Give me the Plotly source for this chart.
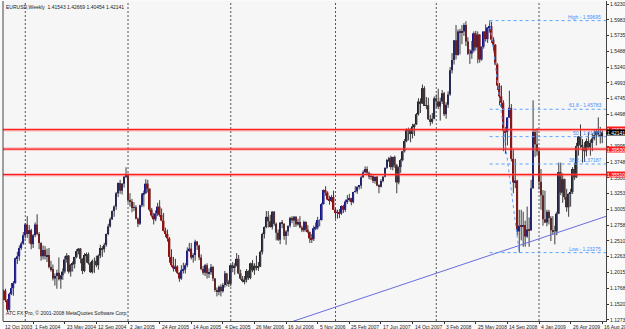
import pandas as pd
import plotly.graph_objects as go

header_text = "EURUSD,Weekly  1.41543 1.42669 1.40454 1.42141"
footer_text = "ATC FX Pro, \u00a9 2001-2008 MetaQuotes Software Corp."

first_week = "2003-10-12"
missing_week = "2007-08-26"   # week absent from the broker history

opens = [
    # 2003
    1.1770, 1.1630, 1.1730, 1.1580, 1.1430, 1.1680, 1.1770, 1.1850, 1.2240, 1.2270, 1.2400, 1.2470,
    # 2004
    1.2600, 1.2770, 1.2620, 1.2680, 1.2460, 1.2600, 1.2770, 1.2620, 1.2480, 1.2270, 1.2370, 1.2270, 1.2290,
    1.2100, 1.2070, 1.1920, 1.1960, 1.2010, 1.1910, 1.1970, 1.2030, 1.2220, 1.2280, 1.2030, 1.2140, 1.2150,
    1.2260, 1.2350, 1.2390, 1.2230, 1.2040, 1.2290, 1.2300, 1.2160, 1.2020, 1.2200, 1.2200, 1.2130, 1.2280,
    1.2400, 1.2380, 1.2450, 1.2620, 1.2740, 1.2850, 1.2980, 1.3050, 1.3260, 1.3420, 1.3300, 1.3410, 1.3520,
    # 2005
    1.3550, 1.3150, 1.3130, 1.3030, 1.3040, 1.2860, 1.2780, 1.3070, 1.3240, 1.3260, 1.3410, 1.3330, 1.3000,
    1.2910, 1.2850, 1.2940, 1.3050, 1.2920, 1.2830, 1.2670, 1.2620, 1.2550, 1.2260, 1.2130, 1.2080, 1.2110,
    1.2010, 1.1920, 1.2050, 1.2060, 1.2130, 1.2360, 1.2390, 1.2250, 1.2290, 1.2500, 1.2440, 1.2250, 1.2070,
    1.2010, 1.2130, 1.2000, 1.2020, 1.2100, 1.1920, 1.1740, 1.1710, 1.1790, 1.1720, 1.1820, 1.2000, 1.1860,
    # 2006
    1.1840, 1.2130, 1.2100, 1.2120, 1.2230, 1.2000, 1.1920, 1.1880, 1.1900, 1.2040, 1.1930, 1.2160, 1.2050,
    1.2120, 1.2090, 1.2110, 1.2340, 1.2620, 1.2730, 1.2890, 1.2820, 1.2730, 1.2970, 1.2780, 1.2640, 1.2530,
    1.2800, 1.2780, 1.2590, 1.2660, 1.2750, 1.2870, 1.2830, 1.2890, 1.2770, 1.2810, 1.2720, 1.2680, 1.2810,
    1.2690, 1.2650, 1.2550, 1.2540, 1.2710, 1.2720, 1.2840, 1.2840, 1.3090, 1.3310, 1.3270, 1.3160, 1.3140,
    # 2007
    1.3200, 1.3000, 1.2950, 1.2960, 1.2940, 1.3060, 1.3000, 1.3130, 1.3160, 1.3180, 1.3120, 1.3280, 1.3290,
    1.3360, 1.3380, 1.3510, 1.3590, 1.3640, 1.3580, 1.3520, 1.3530, 1.3450, 1.3520, 1.3380, 1.3360, 1.3450,
    1.3520, 1.3660, 1.3780, 1.3810, 1.3670, 1.3830, 1.3700, 1.3430, 1.3670, 1.3780, 1.3920, 1.4080, 1.4260,
    1.4250, 1.4190, 1.4310, 1.4340, 1.4500, 1.4700, 1.4670, 1.4910, 1.4630, 1.4640, 1.4420, 1.4380,
    # 2008
    1.4430, 1.4750, 1.4700, 1.4620, 1.4700, 1.4830, 1.4500, 1.4650, 1.4810, 1.5190, 1.5350, 1.5660, 1.5430,
    1.5800, 1.5780, 1.5800, 1.5900, 1.5640, 1.5450, 1.5450, 1.5500, 1.5770, 1.5550, 1.5750, 1.5360, 1.5560,
    1.5800, 1.5680, 1.5860, 1.5880, 1.5670, 1.5590, 1.5280, 1.4950, 1.4780, 1.4680, 1.4240, 1.4220, 1.4450,
    1.4600, 1.3800, 1.3430, 1.3460, 1.2660, 1.2750, 1.2740, 1.2760, 1.2580, 1.2690, 1.2680, 1.3340, 1.4220,
    1.4030,
    # 2009
    1.3920, 1.3440, 1.3230, 1.2850, 1.2800, 1.2970, 1.2870, 1.2680, 1.2660, 1.2660, 1.2940, 1.3590, 1.3270,
    1.3480, 1.3200, 1.3040, 1.3250, 1.3280, 1.3640, 1.3510, 1.4000, 1.4150, 1.4020, 1.3980, 1.3920, 1.4080,
    1.3980, 1.4050, 1.4120, 1.4170, 1.4230, 1.4180, 1.41543,
]

highs = [
    # 2003
    1.1790, 1.1750, 1.1760, 1.1600, 1.1700, 1.1850, 1.1880, 1.2250, 1.2340, 1.2440, 1.2500, 1.2650,
    # 2004
    1.2790, 1.2900, 1.2760, 1.2700, 1.2620, 1.2800, 1.2930, 1.2650, 1.2490, 1.2440, 1.2430, 1.2390, 1.2400,
    1.2200, 1.2140, 1.2000, 1.2060, 1.2250, 1.1980, 1.2080, 1.2270, 1.2320, 1.2290, 1.2150, 1.2190, 1.2260,
    1.2380, 1.2400, 1.2400, 1.2240, 1.2320, 1.2330, 1.2330, 1.2180, 1.2220, 1.2250, 1.2280, 1.2300, 1.2450,
    1.2430, 1.2480, 1.2630, 1.2780, 1.2880, 1.2990, 1.3070, 1.3280, 1.3430, 1.3470, 1.3420, 1.3530, 1.3667,
    # 2005
    1.3570, 1.3260, 1.3170, 1.3120, 1.3070, 1.2880, 1.3080, 1.3260, 1.3300, 1.3480, 1.3470, 1.3340, 1.3030,
    1.2950, 1.2990, 1.3110, 1.3150, 1.3020, 1.2950, 1.2720, 1.2690, 1.2570, 1.2380, 1.2260, 1.2230, 1.2130,
    1.2020, 1.2130, 1.2170, 1.2160, 1.2410, 1.2480, 1.2480, 1.2320, 1.2530, 1.2510, 1.2450, 1.2300, 1.2120,
    1.2150, 1.2160, 1.2080, 1.2150, 1.2120, 1.1930, 1.1780, 1.1810, 1.1830, 1.1850, 1.2040, 1.2010, 1.1900,
    # 2006
    1.2140, 1.2180, 1.2160, 1.2320, 1.2290, 1.2060, 1.1960, 1.1960, 1.2070, 1.2050, 1.2170, 1.2210, 1.2160,
    1.2280, 1.2180, 1.2360, 1.2640, 1.2740, 1.2980, 1.2980, 1.2920, 1.2980, 1.2980, 1.2800, 1.2690, 1.2800,
    1.2840, 1.2790, 1.2680, 1.2750, 1.2890, 1.2900, 1.2900, 1.2900, 1.2860, 1.2900, 1.2750, 1.2830, 1.2820,
    1.2760, 1.2660, 1.2620, 1.2750, 1.2800, 1.2890, 1.2850, 1.3110, 1.3320, 1.3370, 1.3290, 1.3220, 1.3230,
    # 2007
    1.3300, 1.3030, 1.3000, 1.3010, 1.3070, 1.3080, 1.3160, 1.3230, 1.3250, 1.3190, 1.3280, 1.3370, 1.3370,
    1.3390, 1.3530, 1.3620, 1.3680, 1.3680, 1.3600, 1.3570, 1.3540, 1.3520, 1.3530, 1.3400, 1.3480, 1.3530,
    1.3660, 1.3800, 1.3830, 1.3850, 1.3830, 1.3850, 1.3720, 1.3680, 1.3800, 1.3920, 1.4110, 1.4280, 1.4290,
    1.4280, 1.4350, 1.4350, 1.4520, 1.4750, 1.4750, 1.4967, 1.4940, 1.4770, 1.4760, 1.4490, 1.4520,
    # 2008
    1.4780, 1.4810, 1.4900, 1.4760, 1.4880, 1.4850, 1.4690, 1.4860, 1.5240, 1.5460, 1.5660, 1.5900, 1.5830,
    1.5840, 1.5900, 1.5930, 1.5960, 1.5710, 1.5520, 1.5650, 1.5800, 1.5810, 1.5800, 1.5760, 1.5570, 1.5800,
    1.5910, 1.5870, 1.59695, 1.5950, 1.5710, 1.5600, 1.5300, 1.4990, 1.4950, 1.4720, 1.4300, 1.4450, 1.4870,
    1.4660, 1.3940, 1.3800, 1.3470, 1.3000, 1.3000, 1.2970, 1.2830, 1.3050, 1.2880, 1.3470, 1.4719, 1.4250,
    1.4280,
    # 2009
    1.3950, 1.3640, 1.3310, 1.3300, 1.3000, 1.3000, 1.2900, 1.2900, 1.2750, 1.2970, 1.3740, 1.3740, 1.3570,
    1.3490, 1.3330, 1.3260, 1.3330, 1.3670, 1.3740, 1.4050, 1.4160, 1.4340, 1.4110, 1.4060, 1.4120, 1.4220,
    1.4100, 1.4200, 1.4250, 1.4270, 1.4450, 1.4300, 1.42669,
]

lows = [
    # 2003
    1.1600, 1.1580, 1.1550, 1.1400, 1.1420, 1.1660, 1.1650, 1.1840, 1.2150, 1.2200, 1.2370, 1.2450,
    # 2004
    1.2550, 1.2560, 1.2470, 1.2380, 1.2400, 1.2570, 1.2600, 1.2380, 1.2200, 1.2220, 1.2220, 1.2180, 1.2080,
    1.2030, 1.1890, 1.1810, 1.1760, 1.1890, 1.1760, 1.1900, 1.2000, 1.2170, 1.2000, 1.1950, 1.2030, 1.2080,
    1.2240, 1.2300, 1.2160, 1.1990, 1.2020, 1.2170, 1.2140, 1.2010, 1.2000, 1.2010, 1.2100, 1.2060, 1.2240,
    1.2260, 1.2330, 1.2420, 1.2600, 1.2720, 1.2840, 1.2890, 1.3000, 1.3200, 1.3250, 1.3240, 1.3350, 1.3500,
    # 2005
    1.3110, 1.3050, 1.2960, 1.2980, 1.2850, 1.2730, 1.2760, 1.3040, 1.3050, 1.3250, 1.3270, 1.2970, 1.2880,
    1.2770, 1.2820, 1.2900, 1.2890, 1.2820, 1.2660, 1.2570, 1.2500, 1.2170, 1.2100, 1.2030, 1.2030, 1.1990,
    1.1870, 1.1900, 1.2000, 1.2000, 1.2100, 1.2340, 1.2220, 1.2170, 1.2200, 1.2370, 1.2210, 1.2050, 1.1980,
    1.1960, 1.1920, 1.1930, 1.1980, 1.1880, 1.1710, 1.1640, 1.1660, 1.1640, 1.1700, 1.1780, 1.1800, 1.1790,
    # 2006
    1.1800, 1.2020, 1.1980, 1.2110, 1.1990, 1.1900, 1.1860, 1.1830, 1.1860, 1.1900, 1.1910, 1.2020, 1.1980,
    1.2050, 1.2040, 1.2100, 1.2300, 1.2550, 1.2710, 1.2720, 1.2720, 1.2690, 1.2750, 1.2520, 1.2510, 1.2460,
    1.2710, 1.2530, 1.2450, 1.2590, 1.2720, 1.2790, 1.2730, 1.2730, 1.2750, 1.2710, 1.2650, 1.2650, 1.2660,
    1.2630, 1.2480, 1.2480, 1.2510, 1.2680, 1.2690, 1.2740, 1.2830, 1.3080, 1.3220, 1.3150, 1.3080, 1.3120,
    # 2007
    1.3000, 1.2860, 1.2860, 1.2870, 1.2920, 1.2950, 1.2970, 1.3090, 1.3130, 1.3070, 1.3100, 1.3270, 1.3250,
    1.3320, 1.3330, 1.3500, 1.3570, 1.3560, 1.3480, 1.3470, 1.3420, 1.3410, 1.3370, 1.3260, 1.3350, 1.3430,
    1.3510, 1.3640, 1.3750, 1.3630, 1.3620, 1.3660, 1.3260, 1.3400, 1.3580, 1.3760, 1.3900, 1.4060, 1.4090,
    1.4060, 1.4120, 1.4160, 1.4330, 1.4480, 1.4520, 1.4660, 1.4630, 1.4580, 1.4410, 1.4320, 1.4350,
    # 2008
    1.4420, 1.4600, 1.4580, 1.4400, 1.4660, 1.4470, 1.4430, 1.4600, 1.4790, 1.5140, 1.5280, 1.5360, 1.5420,
    1.5440, 1.5600, 1.5730, 1.5570, 1.5430, 1.5290, 1.5370, 1.5470, 1.5500, 1.5300, 1.5310, 1.5340, 1.5530,
    1.5640, 1.5620, 1.5780, 1.5620, 1.5500, 1.5270, 1.4880, 1.4640, 1.4600, 1.3920, 1.3880, 1.4010, 1.4440,
    1.3760, 1.3260, 1.3340, 1.2600, 1.23275, 1.2520, 1.2420, 1.2420, 1.2560, 1.2420, 1.2670, 1.3330, 1.3830,
    1.3850,
    # 2009
    1.3320, 1.3000, 1.2750, 1.2790, 1.2740, 1.2770, 1.2510, 1.2610, 1.2457, 1.2600, 1.2930, 1.3230, 1.3110,
    1.3160, 1.2970, 1.2890, 1.3050, 1.3250, 1.3470, 1.3500, 1.3850, 1.3970, 1.3740, 1.3750, 1.3840, 1.3960,
    1.3850, 1.3920, 1.4090, 1.4010, 1.4150, 1.4040, 1.40454,
]

closes = [
    # 2003
    1.1630, 1.1730, 1.1580, 1.1430, 1.1680, 1.1770, 1.1850, 1.2240, 1.2270, 1.2400, 1.2470, 1.2600,
    # 2004
    1.2770, 1.2620, 1.2680, 1.2460, 1.2600, 1.2770, 1.2620, 1.2480, 1.2270, 1.2370, 1.2270, 1.2290, 1.2100,
    1.2070, 1.1920, 1.1960, 1.2010, 1.1910, 1.1970, 1.2030, 1.2220, 1.2280, 1.2030, 1.2140, 1.2150, 1.2260,
    1.2350, 1.2390, 1.2230, 1.2040, 1.2290, 1.2300, 1.2160, 1.2020, 1.2200, 1.2200, 1.2130, 1.2280, 1.2400,
    1.2380, 1.2450, 1.2620, 1.2740, 1.2850, 1.2980, 1.3050, 1.3260, 1.3420, 1.3300, 1.3410, 1.3520, 1.3550,
    # 2005
    1.3150, 1.3130, 1.3030, 1.3040, 1.2860, 1.2780, 1.3070, 1.3240, 1.3260, 1.3410, 1.3330, 1.3000, 1.2910,
    1.2850, 1.2940, 1.3050, 1.2920, 1.2830, 1.2670, 1.2620, 1.2550, 1.2260, 1.2130, 1.2080, 1.2110, 1.2010,
    1.1920, 1.2050, 1.2060, 1.2130, 1.2360, 1.2390, 1.2250, 1.2290, 1.2500, 1.2440, 1.2250, 1.2070, 1.2010,
    1.2130, 1.2000, 1.2020, 1.2100, 1.1920, 1.1740, 1.1710, 1.1790, 1.1720, 1.1820, 1.2000, 1.1860, 1.1840,
    # 2006
    1.2130, 1.2100, 1.2120, 1.2230, 1.2000, 1.1920, 1.1880, 1.1900, 1.2040, 1.1930, 1.2160, 1.2050, 1.2120,
    1.2090, 1.2110, 1.2340, 1.2620, 1.2730, 1.2890, 1.2820, 1.2730, 1.2970, 1.2780, 1.2640, 1.2530, 1.2800,
    1.2780, 1.2590, 1.2660, 1.2750, 1.2870, 1.2830, 1.2890, 1.2770, 1.2810, 1.2720, 1.2680, 1.2810, 1.2690,
    1.2650, 1.2550, 1.2540, 1.2710, 1.2720, 1.2840, 1.2840, 1.3090, 1.3310, 1.3270, 1.3160, 1.3140, 1.3200,
    # 2007
    1.3000, 1.2950, 1.2960, 1.2940, 1.3060, 1.3000, 1.3130, 1.3160, 1.3180, 1.3120, 1.3280, 1.3290, 1.3360,
    1.3380, 1.3510, 1.3590, 1.3640, 1.3580, 1.3520, 1.3530, 1.3450, 1.3520, 1.3380, 1.3360, 1.3450, 1.3520,
    1.3660, 1.3780, 1.3810, 1.3670, 1.3830, 1.3700, 1.3430, 1.3670, 1.3780, 1.3920, 1.4080, 1.4260, 1.4250,
    1.4190, 1.4310, 1.4340, 1.4500, 1.4700, 1.4670, 1.4910, 1.4630, 1.4640, 1.4420, 1.4380, 1.4430,
    # 2008
    1.4750, 1.4700, 1.4620, 1.4700, 1.4830, 1.4500, 1.4650, 1.4810, 1.5190, 1.5350, 1.5660, 1.5430, 1.5800,
    1.5780, 1.5800, 1.5900, 1.5640, 1.5450, 1.5450, 1.5500, 1.5770, 1.5550, 1.5750, 1.5360, 1.5560, 1.5800,
    1.5680, 1.5860, 1.5880, 1.5670, 1.5590, 1.5280, 1.4950, 1.4780, 1.4680, 1.4240, 1.4220, 1.4450, 1.4600,
    1.3800, 1.3430, 1.3460, 1.2660, 1.2750, 1.2740, 1.2760, 1.2580, 1.2690, 1.2680, 1.3340, 1.4220, 1.4030,
    1.3920,
    # 2009
    1.3440, 1.3230, 1.2850, 1.2800, 1.2970, 1.2870, 1.2680, 1.2660, 1.2660, 1.2940, 1.3590, 1.3270, 1.3480,
    1.3200, 1.3040, 1.3250, 1.3280, 1.3640, 1.3510, 1.4000, 1.4150, 1.4020, 1.3980, 1.3920, 1.4080, 1.3980,
    1.4050, 1.4120, 1.4170, 1.4230, 1.4180, 1.41543, 1.42141,
]

x_tick_labels = [
    "12 Oct 2003", "1 Feb 2004", "23 May 2004", "12 Sep 2004", "2 Jan 2005", "24 Apr 2005",
    "14 Aug 2005", "4 Dec 2005", "26 Mar 2006", "16 Jul 2006", "5 Nov 2006", "25 Feb 2007",
    "17 Jun 2007", "14 Oct 2007", "3 Feb 2008", "25 May 2008", "14 Sep 2008", "4 Jan 2009",
    "26 Apr 2009", "16 Aug 2009",
]
x_tick_every = 16  # bars between date labels

y_tick_labels = [
    "1.62305", "1.59830", "1.57355", "1.54880", "1.52405", "1.49930", "1.47455", "1.44980",
    "1.42430", "1.39955", "1.37480", "1.35005", "1.32530", "1.30055", "1.27580", "1.25105",
    "1.22630", "1.20155", "1.17680", "1.15205", "1.12730",
]

red_levels = [1.42570, 1.39530, 1.35510]
current_price = 1.42141

fib_high, fib_high_week = 1.59695, "2008-07-13"
fib_low, fib_low_week = 1.23275, "2008-10-26"
fib_levels = [("High", 1.0), ("61.8", 0.618), ("50", 0.5), ("38.2", 0.382), ("Low", 0.0)]

trend_a = ("2006-06-18", 1.11712)
trend_b = ("2009-08-16", 1.28772)

# ---------------------------------------------------------------
n = len(closes)
all_weeks = pd.date_range(first_week, periods=n + 1, freq="7D")
weeks = [d for d in all_weeks if d != pd.Timestamp(missing_week)]
bar = list(range(n))
week_idx = {d.strftime("%Y-%m-%d"): i for i, d in enumerate(weeks)}

x_lo, x_hi = 0.73, 305.9
y_lo, y_hi = 1.12541, 1.62777

FONT = "Liberation Sans, Arial, sans-serif"
BULL = "#14148c"
BEAR = "#8e1212"
WICK = "#3c3c3c"

fig = go.Figure()

# year separators
for i in range(1, n):
    if weeks[i].year != weeks[i - 1].year:
        fig.add_shape(type="line", xref="x", yref="paper", x0=i, x1=i, y0=0, y1=1,
                      line=dict(color="#555555", width=1, dash="2px,2px"), layer="below")

# wicks
wx, wy = [], []
for i in bar:
    wx += [i, i, None]
    wy += [lows[i], highs[i], None]
fig.add_trace(go.Scatter(x=wx, y=wy, mode="lines", line=dict(color=WICK, width=1),
                         showlegend=False, hoverinfo="skip"))

# bodies
for up, col in ((True, BULL), (False, BEAR)):
    xs = [i for i in bar if (closes[i] >= opens[i]) == up]
    fig.add_trace(go.Bar(
        x=xs,
        y=[abs(closes[i] - opens[i]) for i in xs],
        base=[min(opens[i], closes[i]) for i in xs],
        width=0.85, marker=dict(color=col, line=dict(width=0)),
        showlegend=False, hoverinfo="skip",
    ))

# trend line (ray to the right edge)
ia, ib = week_idx[trend_a[0]], week_idx[trend_b[0]]
slope = (trend_b[1] - trend_a[1]) / (ib - ia)
fig.add_trace(go.Scatter(
    x=[ia, x_hi], y=[trend_a[1], trend_a[1] + slope * (x_hi - ia)],
    mode="lines", line=dict(color="#6b6be0", width=1), showlegend=False, hoverinfo="skip",
))

# fibonacci
ih, il = week_idx[fib_high_week], week_idx[fib_low_week]
fig.add_trace(go.Scatter(
    x=[ih, il], y=[fib_high, fib_low], mode="lines",
    line=dict(color="#5aa2ff", width=1, dash="dot"), showlegend=False, hoverinfo="skip",
))
for name, r in fib_levels:
    lvl = fib_low + r * (fib_high - fib_low)
    fig.add_shape(type="line", xref="x", yref="y", x0=ih, x1=x_hi, y0=lvl, y1=lvl,
                  line=dict(color="#5aa2ff", width=1, dash="dot"))
    fig.add_annotation(xref="paper", yref="y", x=0.995, y=lvl, xanchor="right", yanchor="bottom",
                       text=f"{name} - {lvl:.5f}", showarrow=False, yshift=-1,
                       font=dict(family=FONT, size=5, color="#3d8fff"))

# red horizontal levels
for lvl in red_levels:
    fig.add_shape(type="line", xref="paper", yref="y", x0=0, x1=1, y0=lvl, y1=lvl,
                  line=dict(color="rgba(255,90,90,0.35)", width=3.5))
    fig.add_shape(type="line", xref="paper", yref="y", x0=0, x1=1, y0=lvl, y1=lvl,
                  line=dict(color="#ff2020", width=1.3))
    fig.add_annotation(xref="paper", yref="y", x=1, y=lvl, xanchor="left", yanchor="middle",
                       text=f"{lvl:.5f}", showarrow=False, bgcolor="#ff1a1a", borderpad=0,
                       width=20, height=5, align="left", font=dict(family=FONT, size=5, color="white"))

fig.add_annotation(xref="paper", yref="y", x=1, y=current_price, xanchor="left", yanchor="middle",
                   text=f"{current_price:.5f}", showarrow=False, bgcolor="#000000", borderpad=0,
                   width=20, height=5, align="left", font=dict(family=FONT, size=5, color="white"))

# date labels along the bottom axis, starting at their bar (MetaTrader style)
for k, lab in enumerate(x_tick_labels):
    fig.add_annotation(xref="x", yref="paper", x=max(k * x_tick_every, x_lo), y=0,
                       xanchor="left", yanchor="top", text=lab, showarrow=False, yshift=-1,
                       font=dict(family=FONT, size=5, color="#222222"))

# left frame line
fig.add_shape(type="line", xref="paper", yref="paper", x0=0, x1=0, y0=0, y1=1,
              line=dict(color="#444444", width=1))

fig.add_annotation(xref="paper", yref="paper", x=0.002, y=0.997, xanchor="left", yanchor="top",
                   text=header_text, showarrow=False, font=dict(family=FONT, size=5, color="#222222"))
fig.add_annotation(xref="paper", yref="paper", x=0.002, y=0.008, xanchor="left", yanchor="bottom",
                   text=footer_text, showarrow=False, font=dict(family=FONT, size=5, color="#222222"))

fig.update_layout(
    width=625, height=329,
    margin=dict(l=3, r=19, t=1, b=8, autoexpand=False),
    paper_bgcolor="#fafafa", plot_bgcolor="#f6f6f6",
    showlegend=False, barmode="overlay",
    xaxis=dict(
        range=[x_lo, x_hi], showgrid=False, zeroline=False,
        tickvals=[i * x_tick_every for i in range(len(x_tick_labels))],
        showticklabels=False, ticks="outside", ticklen=2, tickcolor="#333333",
        showline=True, linecolor="#444444", linewidth=1,
    ),
    yaxis=dict(
        range=[y_lo, y_hi], side="right", showgrid=False, zeroline=False,
        tickvals=[float(v) for v in y_tick_labels], ticktext=y_tick_labels,
        ticks="outside", ticklen=2, tickcolor="#333333",
        tickfont=dict(family=FONT, size=5, color="#222222"),
        showline=True, linecolor="#444444", linewidth=1,
    ),
)

fig.write_html("out.html")
